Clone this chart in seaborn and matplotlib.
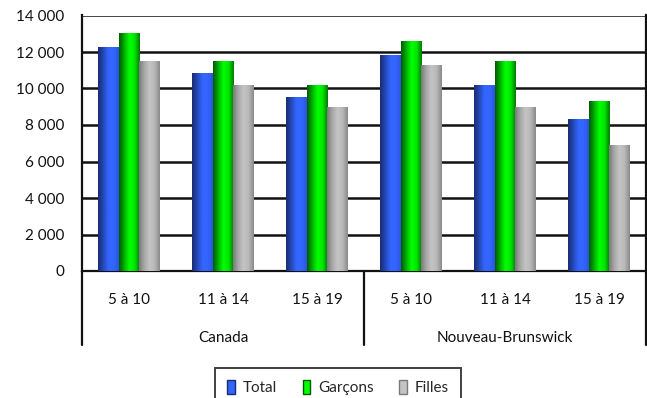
import numpy as np
import pandas as pd
import matplotlib
matplotlib.use("Agg")
import matplotlib.pyplot as plt
from matplotlib.colors import LinearSegmentedColormap
from matplotlib.patches import Patch
from matplotlib.lines import Line2D
import seaborn as sns

# Data: number of young people by age band, Canada vs New Brunswick
regions = ["Canada", "Nouveau-Brunswick"]
age_bands = ["5 à 10", "11 à 14", "15 à 19"]
series = ["Total", "Garçons", "Filles"]
total = [12300, 10850, 9550, 11850, 10200, 8350]
garcons = [13050, 11500, 10200, 12600, 11500, 9300]
filles = [11500, 10200, 9000, 11300, 9000, 6900]
y_ticks = [0, 2000, 4000, 6000, 8000, 10000, 12000, 14000]

keys = [f"{r}|{a}" for r in regions for a in age_bands]
df = pd.DataFrame({
    "cat": keys * 3,
    "serie": np.repeat(series, len(keys)),
    "val": total + garcons + filles,
})

sns.set_theme(style="white")
plt.rcParams["font.family"] = ["Lato", "DejaVu Sans"]
FS = 11

fig = plt.figure(figsize=(6.47, 3.98), dpi=100)
ax = fig.add_axes([82 / 647, 1 - 271 / 398, (646 - 82) / 647, (271 - 15.5) / 398])

base = {"Total": "#2f5de8", "Garçons": "#00d800", "Filles": "#b0b0b0"}
sns.barplot(data=df, x="cat", y="val", hue="serie", order=keys, hue_order=series,
            palette=base, width=0.67, legend=False, ax=ax, zorder=3,
            edgecolor="none", linewidth=0)

# cylinder-like horizontal shading for each series
ramps = {
    "Total": ["#1a2c70", "#2448b8", "#3366ff", "#3366ff", "#2a55e0"],
    "Garçons": ["#005a00", "#00b000", "#00ff00", "#00e800", "#007a00"],
    "Filles": ["#7a7a7a", "#a8a8a8", "#c4c4c4", "#b8b8b8", "#8a8a8a"],
}
grad = np.linspace(0, 1, 64).reshape(1, -1)
for i, s in enumerate(series):
    cmap = LinearSegmentedColormap.from_list(s, ramps[s])
    for j in range(len(keys)):
        p = ax.patches[i * len(keys) + j]
        x0, w, h = p.get_x(), p.get_width(), p.get_height()
        im = ax.imshow(grad, cmap=cmap, aspect="auto", extent=(x0, x0 + w, 0, h),
                       zorder=4, interpolation="bilinear")
        im.set_clip_path(p)

ax.set_xlim(-0.5, len(keys) - 0.5)
ax.set_ylim(0, 14000)
ax.set_yticks(y_ticks)
ax.set_yticklabels([f"{v:,}".replace(",", " ") for v in y_ticks], fontsize=FS, color="#111")
ax.tick_params(axis="y", length=0, pad=13)
for v in y_ticks[1:]:
    ax.axhline(v, color="#111", lw=1.8, zorder=2)

ax.set_xticks(range(len(keys)))
ax.set_xticklabels(age_bands * len(regions), fontsize=FS, color="#111")
ax.tick_params(axis="x", length=0, pad=16)
ax.set_xlabel("")
ax.set_ylabel("")

for side in ["left", "bottom", "right"]:
    ax.spines[side].set_visible(True)
    ax.spines[side].set_color("#111")
    ax.spines[side].set_linewidth(1.6)
ax.spines["top"].set_visible(False)

# region labels and separators below the axis
n = len(age_bands)
for k, r in enumerate(regions):
    cx = k * n + (n - 1) / 2
    ax.text(cx, -0.262, r, transform=ax.get_xaxis_transform(), ha="center",
            va="center", fontsize=FS, color="#111")
for xpos in [-0.5, n - 0.5, len(keys) - 0.5]:
    ax.add_line(Line2D([xpos, xpos], [0, -0.29], transform=ax.get_xaxis_transform(),
                       color="#111", lw=1.6, clip_on=False))

handles = [Patch(facecolor=ramps[s][2], edgecolor=ramps[s][0], label=s) for s in series]
leg = fig.legend(handles=handles, loc="upper center", bbox_to_anchor=(338 / 647, 1 - 368 / 398),
                 ncol=3, frameon=True, fancybox=False, fontsize=FS, handlelength=0.5,
                 handleheight=1.0, handletextpad=0.5, columnspacing=1.7,
                 borderpad=0.8, borderaxespad=0)
leg.get_frame().set_edgecolor("#111")
leg.get_frame().set_linewidth(1.4)

fig.savefig("out.png", dpi=100)
